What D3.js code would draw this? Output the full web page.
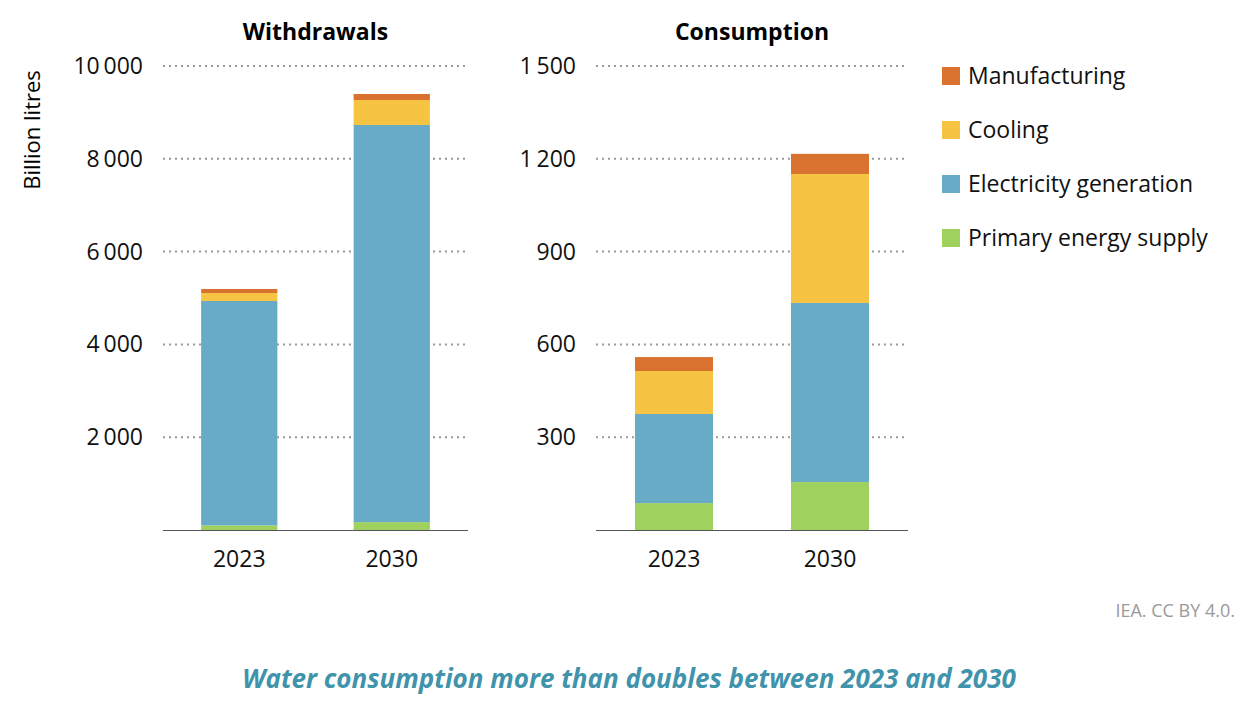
<!doctype html>
<html>
<head>
<meta charset="utf-8">
<title>Water withdrawals and consumption</title>
<script src="https://cdnjs.cloudflare.com/ajax/libs/d3/7.8.5/d3.min.js"></script>
<style>
  body { margin: 0; background: #fff; }
  text { font-family: "Open Sans", "Liberation Sans", sans-serif; }
</style>
</head>
<body>
<script>
// data
var years = ["2023", "2030"];
var series = ["Primary energy supply", "Electricity generation", "Cooling", "Manufacturing"];
var colors = ["#9fd15f", "#67abc6", "#f6c343", "#d9722e"];
var withdrawals = [[100, 4835, 173, 86], [170, 8558, 539, 130]];
var consumption = [[87, 288, 139, 45], [155, 579, 417, 65]];
var withdrawalTicks = [2000, 4000, 6000, 8000, 10000];
var consumptionTicks = [300, 600, 900, 1200, 1500];

var svg = d3.select("body").append("svg")
  .attr("width", 1258)
  .attr("height", 706);

var fmt = function (v) { return d3.format(",")(v).replace(/,/g, "\u2009"); };

function panel(title, values, ticks, maxV, x0, x1) {
  var y = d3.scaleLinear().domain([0, maxV]).range([530, 66]);
  var x = d3.scaleBand().domain(years).range([x0, x1]).paddingInner(0.5).paddingOuter(0.25);
  var g = svg.append("g");

  // gridlines
  g.selectAll(".grid").data(ticks).enter().append("line")
    .attr("x1", x0).attr("x2", x1)
    .attr("y1", function (d) { return y(d); }).attr("y2", function (d) { return y(d); })
    .attr("stroke", "#999").attr("stroke-width", 2).attr("stroke-dasharray", "2,4");

  // tick labels
  g.selectAll(".tick").data(ticks).enter().append("text")
    .attr("x", x0 - 20).attr("y", function (d) { return y(d) + 8; })
    .attr("text-anchor", "end").attr("font-size", 23).attr("fill", "#111")
    .text(fmt);

  // stacked bars
  years.forEach(function (yr, i) {
    var base = 0;
    values[i].forEach(function (v, s) {
      g.append("rect")
        .attr("x", x(yr)).attr("width", x.bandwidth())
        .attr("y", y(base + v)).attr("height", y(base) - y(base + v))
        .attr("fill", colors[s]);
      base += v;
    });
  });

  // baseline
  g.append("line").attr("x1", x0).attr("x2", x1).attr("y1", 530.5).attr("y2", 530.5)
    .attr("stroke", "#555").attr("stroke-width", 1.2);

  g.selectAll(".yr").data(years).enter().append("text")
    .attr("x", function (d) { return x(d) + x.bandwidth() / 2; }).attr("y", 567)
    .attr("text-anchor", "middle").attr("font-size", 23).attr("fill", "#111")
    .text(function (d) { return d; });

  g.append("text").attr("x", (x0 + x1) / 2).attr("y", 40)
    .attr("text-anchor", "middle").attr("font-size", 23).attr("font-weight", "bold")
    .text(title);
}

panel("Withdrawals", withdrawals, withdrawalTicks, 10000, 163, 468);
panel("Consumption", consumption, consumptionTicks, 1500, 596, 908);

svg.append("text").attr("transform", "translate(40,130) rotate(-90)")
  .attr("text-anchor", "middle").attr("font-size", 22).text("Billion litres");

// legend, top item is last series
var legend = series.slice().reverse();
var legendColors = colors.slice().reverse();
legend.forEach(function (name, i) {
  svg.append("rect").attr("x", 942).attr("y", 67 + i * 54).attr("width", 18).attr("height", 18)
    .attr("fill", legendColors[i]);
  svg.append("text").attr("x", 968).attr("y", 84 + i * 54).attr("font-size", 23).attr("fill", "#111")
    .text(name);
});

svg.append("text").attr("x", 1235).attr("y", 617).attr("text-anchor", "end")
  .attr("font-size", 18).attr("fill", "#999").text("IEA. CC BY 4.0.");

svg.append("text").attr("x", 629).attr("y", 688).attr("text-anchor", "middle")
  .attr("font-size", 26).attr("font-weight", "bold").attr("font-style", "italic")
  .attr("fill", "#3f93ab").text("Water consumption more than doubles between 2023 and 2030");
</script>
</body>
</html>
